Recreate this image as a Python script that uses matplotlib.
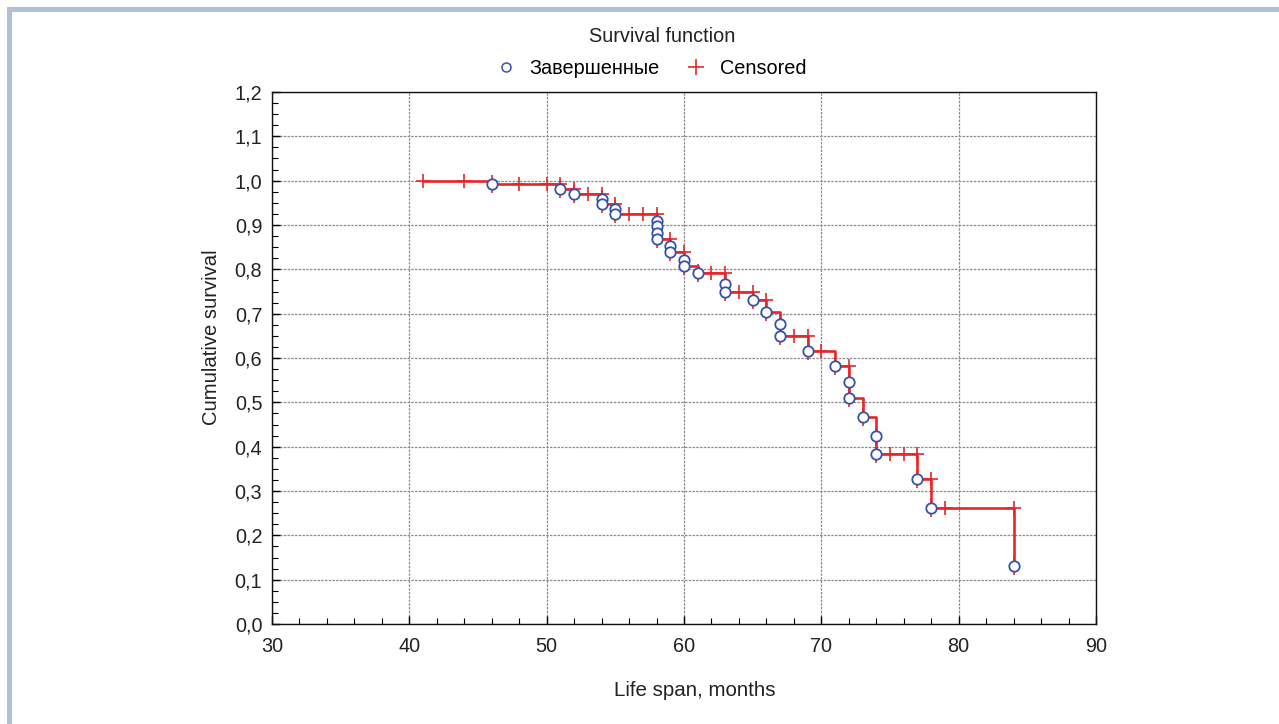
import matplotlib
matplotlib.use("Agg")
import matplotlib.pyplot as plt
from matplotlib.patches import Rectangle
from matplotlib.lines import Line2D
from matplotlib.ticker import MultipleLocator, FuncFormatter

plt.rcParams['font.family'] = ['Liberation Sans', 'DejaVu Sans']

# complete (event) observations: time, survival after the event
event_t = [46, 51, 52, 54, 54, 55, 55, 58, 58, 58, 58, 59, 59, 60, 60, 61, 63, 63,
           65, 66, 67, 67, 69, 71, 72, 72, 73, 74, 74, 77, 78, 84]
event_s = [0.992, 0.981, 0.970, 0.959, 0.948, 0.936, 0.925, 0.910, 0.897, 0.883,
           0.869, 0.853, 0.838, 0.822, 0.807, 0.791, 0.768, 0.749, 0.730, 0.703,
           0.676, 0.649, 0.615, 0.581, 0.545, 0.509, 0.467, 0.425, 0.383, 0.326,
           0.262, 0.131]

# censored observations
cens_t = [41, 44, 48, 50, 51, 52, 53, 54, 55, 56, 57, 58, 59, 60, 62, 63, 64, 65,
          66, 68, 69, 70, 72, 75, 76, 77, 78, 79, 84]
cens_s = [1.0, 1.0, 0.992, 0.992, 0.992, 0.981, 0.970, 0.970, 0.948, 0.925, 0.925,
          0.925, 0.869, 0.838, 0.791, 0.791, 0.749, 0.749, 0.730, 0.649, 0.649,
          0.615, 0.581, 0.383, 0.383, 0.383, 0.326, 0.262, 0.262]

RED = '#e8262a'
BLUE = '#3552a6'
FRAME = '#b0bedc'
TXT = '#222222'
FS = 14.3

fig = plt.figure(figsize=(12.79, 7.24), dpi=100)
W, H = 1279, 724

# light frame on top and left edge
fig.patches.append(Rectangle((7 / W, 1 - 12 / H), 1, 5 / H, transform=fig.transFigure,
                             facecolor=FRAME, edgecolor='none'))
fig.patches.append(Rectangle((7 / W, 0), 5 / W, 1 - 7 / H, transform=fig.transFigure,
                             facecolor=FRAME, edgecolor='none'))

ax = fig.add_axes([272 / W, 1 - 624 / H, (1096 - 272) / W, (624 - 92) / H])

# step line through all observations, censored marks before the drop
pts = sorted([(t, s) for t, s in zip(event_t, event_s)] +
             [(t, s) for t, s in zip(cens_t, cens_s)], key=lambda p: (p[0], -p[1]))
ax.plot([p[0] for p in pts], [p[1] for p in pts], drawstyle='steps-post',
        color=RED, lw=1.9, zorder=3)

ax.plot(cens_t, cens_s, ls='none', marker='+', ms=10, mew=1.2, color=RED, zorder=4)
ax.plot(event_t, event_s, ls='none', marker='|', ms=12.5, mew=1.2, color=RED, zorder=4)
ax.plot(event_t, event_s, ls='none', marker='o', ms=7.5, mew=1.3,
        mec=BLUE, mfc='white', zorder=5)

ax.set_xlim(30, 90)
ax.set_ylim(0, 1.2)
ax.xaxis.set_major_locator(MultipleLocator(10))
ax.xaxis.set_minor_locator(MultipleLocator(2))
ax.yaxis.set_major_locator(MultipleLocator(0.1))
ax.yaxis.set_minor_locator(MultipleLocator(0.025))
ax.yaxis.set_major_formatter(FuncFormatter(lambda v, p: f'{v:.1f}'.replace('.', ',')))
ax.tick_params(which='both', direction='in', top=False, right=False,
               labelsize=FS, colors='black', labelcolor=TXT)
ax.tick_params(which='major', length=6, width=1, pad=7)
ax.tick_params(axis='x', which='major', pad=9)
ax.tick_params(which='minor', length=4, width=0.8)
ax.grid(True, which='major', ls=(0, (2, 1)), color='#8c8c8c', lw=0.9)
for sp in ax.spines.values():
    sp.set_linewidth(1.0)
    sp.set_color('#111111')

ax.set_xlabel('Life span, months', fontsize=FS + 0.5, color=TXT, labelpad=18)
ax.set_ylabel('Cumulative survival', fontsize=FS + 0.3, color=TXT, labelpad=10)
ax.xaxis.label.set_x((695 - 272) / 824)
ax.yaxis.label.set_y((624 - 337) / 532)

fig.text(662 / W, 1 - 36 / H, 'Survival function', ha='center', va='center',
         fontsize=FS, color=TXT)

handles = [Line2D([], [], ls='none', marker='o', ms=6.5, mew=1.1, mec=BLUE, mfc='white'),
           Line2D([], [], ls='none', marker='+', ms=11, mew=1.2, color=RED)]
fig.legend(handles, ['Завершенные', 'Censored'], loc='center',
           bbox_to_anchor=(650 / W, 1 - 68 / H), ncol=2, frameon=False,
           fontsize=FS, handlelength=1.2, handletextpad=0.6, columnspacing=1.2)

fig.savefig('out.png', dpi=100, facecolor='white')
